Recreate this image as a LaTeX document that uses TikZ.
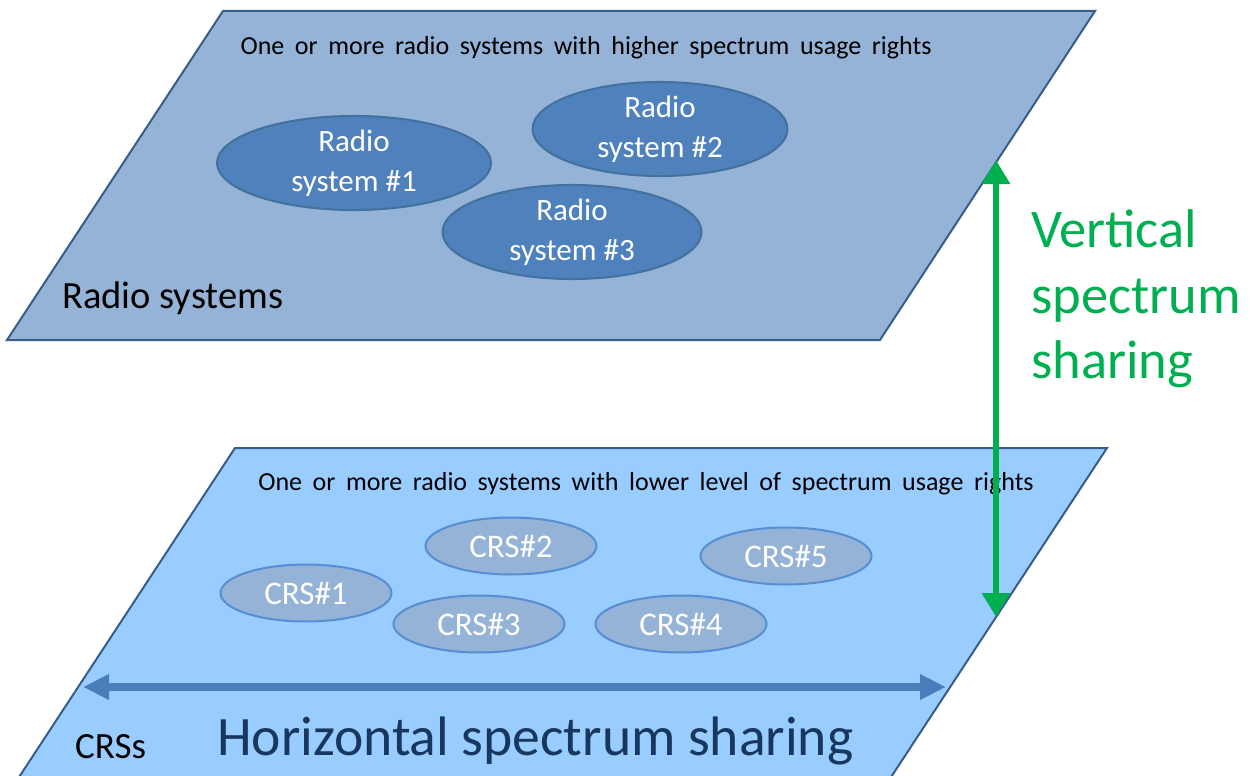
\documentclass[tikz,border=0pt]{standalone}
\usepackage{fontspec}
\setmainfont{Carlito}
\newfontfamily\widespace[WordSpace=1.8]{Carlito}
\usetikzlibrary{arrows.meta,shapes.geometric}
\definecolor{topfill}{HTML}{95B3D7}
\definecolor{botfill}{HTML}{99CCFF}
\definecolor{planeedge}{HTML}{385D8A}
\definecolor{rsfill}{HTML}{4F81BD}
\definecolor{rsedge}{HTML}{41719C}
\definecolor{crsfill}{HTML}{95B3D7}
\definecolor{crsedge}{HTML}{558ED5}
\definecolor{vgreen}{HTML}{00B050}
\definecolor{hblue}{HTML}{4A7EBB}
\definecolor{navy}{HTML}{17375E}
\tikzset{
  tipv/.tip={Triangle[length=24pt,width=27pt]},
  tiph/.tip={Triangle[length=26pt,width=24pt]}}
\begin{document}
\begin{tikzpicture}[x=1pt,y=-1pt,
  plane/.style={draw=planeedge,line width=2pt,line join=miter},
  rsnode/.style={ellipse,draw=rsedge,fill=rsfill,line width=2pt,text=white,align=center,inner sep=0pt,font=\fontsize{31}{40}\selectfont},
  crsnode/.style={ellipse,draw=crsedge,fill=crsfill,line width=2pt,text=white,inner sep=0pt,minimum width=171pt,minimum height=57pt,font=\fontsize{33}{40}\selectfont},
  smalltext/.style={font=\widespace\fontsize{26}{31}\selectfont,anchor=base,inner sep=0pt},
  labeltext/.style={font=\fontsize{38.5}{44}\selectfont,anchor=base west,inner sep=0pt},
  vtext/.style={font=\fontsize{54.5}{65}\selectfont,text=vgreen,anchor=base west,inner sep=0pt}]
\useasboundingbox (0,0) rectangle (1251,776);
\clip (0,0) rectangle (1251,776);
% top plane
\path[plane,fill=topfill] (223,11) -- (1095,11) -- (880,340) -- (7,340) -- cycle;
\node[smalltext] (toptext) at (586,55) {One or more radio systems with higher spectrum usage rights};
\node[rsnode,minimum width=274pt,minimum height=81pt] (rs1) at (354,163) {Radio\\system \#1};
\node[rsnode,minimum width=255pt,minimum height=80pt] (rs2) at (660,129) {Radio\\system \#2};
\node[rsnode,minimum width=259pt,minimum height=82pt] (rs3) at (572,232) {Radio\\system \#3};
\node[labeltext] (rslabel) at (62,308) {Radio systems};
% bottom plane
\path[plane,fill=botfill] (235,448) -- (1107,448) -- (876,800) -- (4,800) -- cycle;
\node[smalltext] (bottext) at (646,490) {One or more radio systems with lower level of spectrum usage rights};
\node[crsnode] (c1) at (306,593) {CRS\#1};
\node[crsnode] (c2) at (511,546) {CRS\#2};
\node[crsnode] (c3) at (479,624) {CRS\#3};
\node[crsnode] (c4) at (681,624) {CRS\#4};
\node[crsnode] (c5) at (786,556) {CRS\#5};
\node[labeltext,font=\fontsize{37}{44}\selectfont] (crslabel) at (75,758) {CRSs};
\node[labeltext,font=\fontsize{55.6}{66}\selectfont,text=navy] (hlabel) at (217,755) {Horizontal spectrum sharing};
\coordinate (hleft) at (83,687);
\coordinate (hright) at (946,687);
\draw[hblue,line width=8pt,{tiph}-{tiph}] (hleft) -- (hright);
% vertical arrow
\coordinate (vtop) at (996,160);
\coordinate (vbot) at (996,617);
\draw[vgreen,line width=6pt,{tipv}-{tipv}] (vtop) -- (vbot);
\node[vtext] (v1) at (1031,247) {Vertical};
\node[vtext] (v2) at (1031,313) {spectrum};
\node[vtext] (v3) at (1031,378) {sharing};
\end{tikzpicture}
\end{document}
